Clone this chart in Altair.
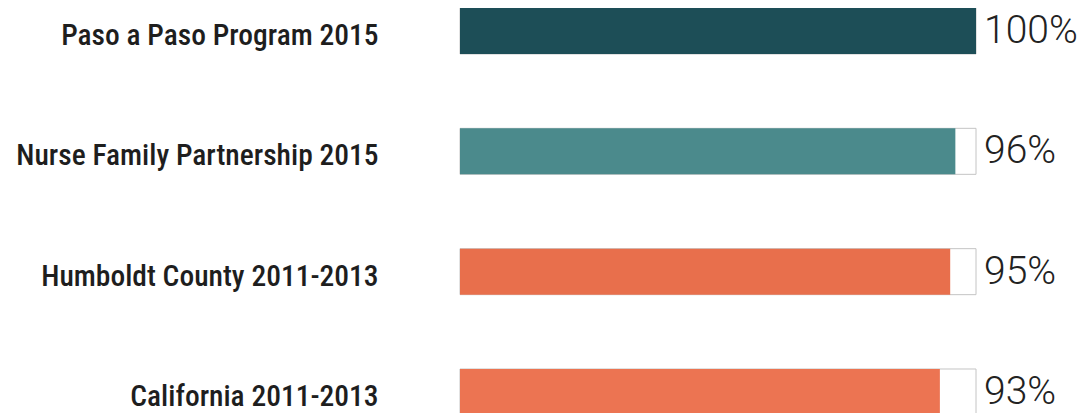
import altair as alt
import pandas as pd

categories = [
    "Paso a Paso Program 2015",
    "Nurse Family Partnership 2015",
    "Humboldt County 2011-2013",
    "California 2011-2013",
]
values = [100, 96, 95, 93]
labels = ["100%", "96%", "95%", "93%"]
colors = ["#1d4e57", "#4b8a8c", "#e86f4c", "#ec7452"]

df = pd.DataFrame({
    "category": categories,
    "value": values,
    "label": labels,
    "color": colors,
    "full": [100] * len(categories),
})

y = alt.Y(
    "category:N",
    sort=categories,
    scale=alt.Scale(paddingInner=0.6176, paddingOuter=0),
    axis=alt.Axis(
        title=None,
        domain=False,
        ticks=False,
        tickSize=0,
        labelPadding=82,
        labelFont="Roboto Condensed, Liberation Sans Narrow, Roboto, sans-serif",
        labelFontSize=29.5,
        labelFontWeight=500,
        labelColor="#1e1e1e",
        labelLimit=0,
        labelOffset=5,
        grid=False,
    ),
)
xscale = alt.Scale(domain=[0, 100], nice=False, zero=True)

bg = alt.Chart(df).mark_bar(fill="white", stroke="#c4c4c4", strokeWidth=1).encode(
    y=y,
    x=alt.X("full:Q", scale=xscale, axis=None),
)

bars = alt.Chart(df).mark_bar().encode(
    y=y,
    x=alt.X("value:Q", scale=xscale, axis=None),
    color=alt.Color("color:N", scale=None, legend=None),
)

text = alt.Chart(df).mark_text(
    align="left", baseline="middle", dx=8, font="Roboto", fontWeight=300,
    fontSize=39, color="#222222",
).encode(
    y=y,
    x=alt.X("full:Q", scale=xscale, axis=None),
    text="label:N",
)

chart = alt.layer(bg, bars, text).properties(
    width=516,
    height=407,
    background="white",
    autosize=alt.AutoSizeParams(type="none"),
    padding={"left": 452, "top": 0, "right": 107, "bottom": 0},
).configure_view(strokeWidth=0, stroke="transparent")

chart.save("out.html", embed_options={"renderer": "svg", "actions": False})
